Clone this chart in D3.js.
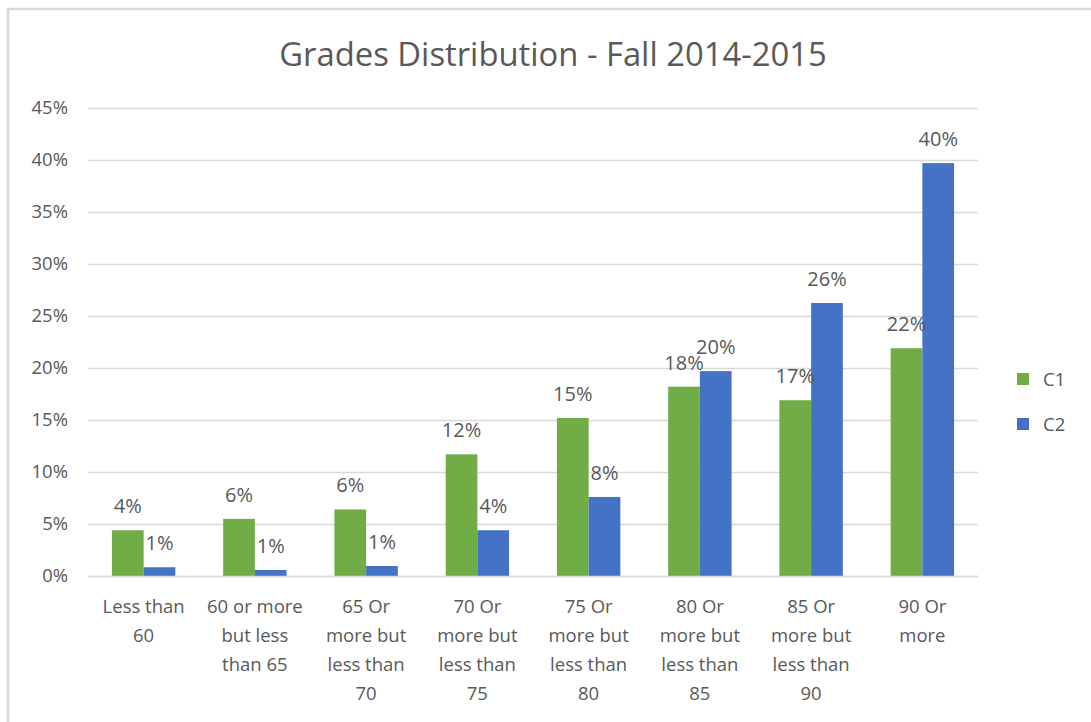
<!DOCTYPE html>
<html>
<head>
<meta charset="utf-8">
<script src="https://cdn.jsdelivr.net/npm/d3@7"></script>
<style>
  html, body { margin: 0; padding: 0; background: #fff; }
  svg { display: block; }
  text { font-family: "Open Sans", "Noto Sans", sans-serif; fill: #595959; }
</style>
</head>
<body>
<svg id="chart" width="1091" height="722"></svg>
<script>
// data (percent)
const categories = [
  "Less than 60", "60 or more but less than 65", "65 Or more but less than 70",
  "70 Or more but less than 75", "75 Or more but less than 80",
  "80 Or more but less than 85", "85 Or more but less than 90", "90 Or more"
];
const categoryLines = [
  ["Less than", "60"],
  ["60 or more", "but less", "than 65"],
  ["65 Or", "more but", "less than", "70"],
  ["70 Or", "more but", "less than", "75"],
  ["75 Or", "more but", "less than", "80"],
  ["80 Or", "more but", "less than", "85"],
  ["85 Or", "more but", "less than", "90"],
  ["90 Or", "more"]
];
const seriesNames = ["C1", "C2"];
const c1 = [4.4, 5.5, 6.4, 11.7, 15.2, 18.2, 16.9, 21.9];
const c2 = [0.84, 0.58, 0.96, 4.4, 7.6, 19.7, 26.25, 39.7];
const yTicks = [0, 5, 10, 15, 20, 25, 30, 35, 40, 45];
const colors = ["#70AD47", "#4472C4"];

const svg = d3.select("#chart");
const margin = { left: 88, right: 113, top: 108, bottom: 146 };
const width = 1091 - margin.left - margin.right;
const height = 722 - margin.top - margin.bottom;

// outer frame (only top and left are visible in the picture)
svg.append("path")
    .attr("d", "M8,722 L8,9 L1091,9")
    .attr("fill", "none")
    .attr("stroke", "#d9d9d9")
    .attr("stroke-width", 2.5);

svg.append("text")
    .attr("x", 553)
    .attr("y", 66)
    .attr("text-anchor", "middle")
    .style("font-size", "32.8px")
    .text("Grades Distribution - Fall 2014-2015");

const g = svg.append("g")
    .attr("transform", `translate(${margin.left},${margin.top})`);

const x0 = d3.scaleBand()
    .domain(categories)
    .range([0, width])
    .paddingInner(0.43)
    .paddingOuter(0.215);

const x1 = d3.scaleBand()
    .domain(seriesNames)
    .range([0, x0.bandwidth()]);

const y = d3.scaleLinear()
    .domain([0, 45])
    .range([height, 0]);

// gridlines + y labels
g.append("g")
    .attr("class", "grid")
    .call(d3.axisLeft(y).tickValues(yTicks).tickSize(-width).tickFormat(""))
    .call(a => a.select(".domain").remove())
    .call(a => a.selectAll("line").attr("stroke", "#d9d9d9").attr("stroke-width", 1.3));

g.append("g")
    .call(d3.axisLeft(y).tickValues(yTicks).tickSize(0).tickPadding(20).tickFormat(d => d + "%"))
    .call(a => a.select(".domain").remove())
    .call(a => a.selectAll("text")
        .style("font-size", "18.5px")
        .attr("fill", "#595959")
        .style("font-family", '"Open Sans", "Noto Sans", sans-serif'));

const rows = categories.map((c, i) => ({ cat: c, vals: [c1[i], c2[i]] }));

const groups = g.selectAll(".grp")
    .data(rows)
    .enter()
    .append("g")
    .attr("class", "grp")
    .attr("transform", d => `translate(${x0(d.cat)},0)`);

groups.selectAll("rect")
    .data(d => d.vals.map((v, k) => ({ key: seriesNames[k], v: v, k: k })))
    .enter()
    .append("rect")
    .attr("x", d => x1(d.key))
    .attr("y", d => y(d.v))
    .attr("width", x1.bandwidth())
    .attr("height", d => y(0) - y(d.v))
    .attr("fill", d => colors[d.k]);

groups.selectAll("text.lbl")
    .data(d => d.vals.map((v, k) => ({ key: seriesNames[k], v: v })))
    .enter()
    .append("text")
    .attr("class", "lbl")
    .attr("x", d => x1(d.key) + x1.bandwidth() / 2)
    .attr("y", d => y(d.v) - 17)
    .attr("text-anchor", "middle")
    .style("font-size", "20px")
    .text(d => Math.round(d.v) + "%");

// category labels
const xAxis = g.append("g")
    .attr("transform", `translate(0,${height})`)
    .call(d3.axisBottom(x0).tickSize(0).tickFormat(""));
xAxis.select(".domain").attr("stroke", "#d9d9d9").attr("stroke-width", 1.3);

xAxis.selectAll(".tick")
    .each(function (d, i) {
        const t = d3.select(this).append("text")
            .attr("text-anchor", "middle")
            .attr("fill", "#595959")
            .style("font-size", "18.5px")
            .style("font-family", '"Open Sans", "Noto Sans", sans-serif');
        categoryLines[i].forEach((line, j) => {
            t.append("tspan")
                .attr("x", 0)
                .attr("y", 37 + j * 29)
                .text(line);
        });
    });

// legend
const legend = svg.append("g")
    .attr("transform", "translate(1017,373)");
seriesNames.forEach((s, i) => {
    legend.append("rect")
        .attr("x", 0)
        .attr("y", i * 45)
        .attr("width", 12)
        .attr("height", 12)
        .attr("fill", colors[i]);
    legend.append("text")
        .attr("x", 26)
        .attr("y", i * 45 + 13)
        .style("font-size", "18.5px")
        .text(s);
});
</script>
</body>
</html>
